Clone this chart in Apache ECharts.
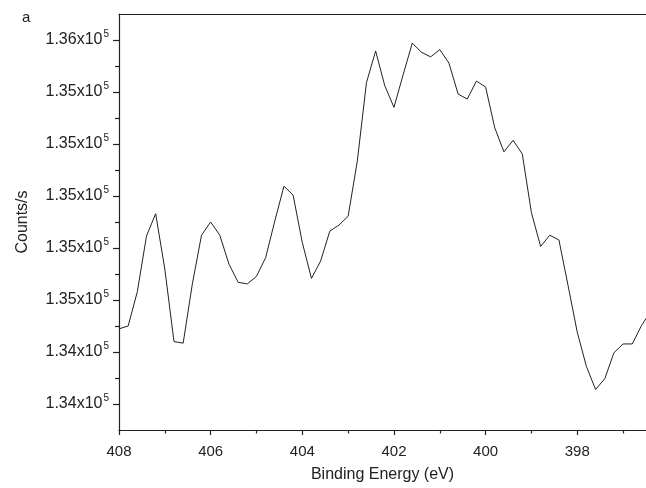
<!DOCTYPE html>
<html><head><meta charset="utf-8">
<script src="https://cdn.jsdelivr.net/npm/echarts@6/dist/echarts.min.js"></script>
<style>html,body{margin:0;padding:0;background:#fff}#c{width:646px;height:488px}</style>
</head><body><div id="c"></div>
<script>
const energy = [408.0,407.8,407.6,407.4,407.2,407.0,406.8,406.6,406.4,406.2,406.0,405.8,405.6,405.4,405.2,405.0,404.8,404.6,404.4,404.2,404.0,403.8,403.6,403.4,403.2,403.0,402.8,402.6,402.4,402.2,402.0,401.8,401.6,401.4,401.2,401.0,400.8,400.6,400.4,400.2,400.0,399.8,399.6,399.4,399.2,399.0,398.8,398.6,398.4,398.2,398.0,397.8,397.6,397.4,397.2,397.0,396.8,396.6,396.4];
const counts = [134489,134500,134632,134846,134932,134719,134440,134434,134661,134849,134900,134849,134738,134668,134662,134691,134763,134904,135038,135003,134821,134683,134750,134865,134888,134922,135134,135436,135558,135424,135341,135466,135588,135553,135535,135563,135511,135392,135373,135442,135419,135262,135170,135214,135162,134936,134806,134849,134831,134655,134476,134344,134256,134297,134397,134431,134431,134501,134556];
const yMajor = [134200,134400,134600,134800,135000,135200,135400,135600];
const yMinor = [134300,134500,134700,134900,135100,135300,135500];
const xMajor = [398,400,402,404,406,408];
const xMinor = [397,399,401,403,405,407];

const FONT = 'Liberation Sans';
const chart = echarts.init(document.getElementById('c'), null, {renderer:'canvas'});
const yMin = 134100, yMax = 135700, xMin = 396.5, xMax = 408;
const axisCol = '#222';
chart.setOption({
  animation:false,
  backgroundColor:'#fff',
  grid:{left:119, right:0, top:14, bottom:57, containLabel:false},
  graphic:[{type:'text', left:22, top:10, style:{text:'a', font:'15px "Liberation Sans"', fill:'#222'}}],
  xAxis:[
    {type:'value', inverse:true, min:xMin, max:xMax, position:'bottom',
     axisLine:{show:true, lineStyle:{color:axisCol, width:1.2}},
     axisTick:{show:true, inside:false, length:5, customValues:xMajor, lineStyle:{color:axisCol, width:1.2}},
     axisLabel:{show:true, customValues:xMajor, margin:14, color:'#222', fontFamily:FONT, fontSize:15},
     splitLine:{show:false},
     name:'Binding Energy (eV)', nameLocation:'middle', nameGap:37,
     nameTextStyle:{color:'#222', fontFamily:FONT, fontSize:16}},
    {type:'value', inverse:true, min:xMin, max:xMax, position:'bottom',
     axisLine:{show:false},
     axisTick:{show:true, length:3.5, customValues:xMinor, lineStyle:{color:axisCol, width:1.2}},
     axisLabel:{show:false}, splitLine:{show:false}},
    {type:'value', inverse:true, min:xMin, max:xMax, position:'top',
     axisLine:{show:true, lineStyle:{color:axisCol, width:1.2}},
     axisTick:{show:false}, axisLabel:{show:false}, splitLine:{show:false}}
  ],
  yAxis:[
    {type:'value', min:yMin, max:yMax, position:'left', scale:true,
     axisLine:{show:true, lineStyle:{color:axisCol, width:1.2}},
     axisTick:{show:true, length:6, customValues:yMajor, lineStyle:{color:axisCol, width:1.2}},
     axisLabel:{show:true, customValues:yMajor, margin:10,
       formatter:function(v){ return '{m|' + (v/1e5).toFixed(2) + 'x10}{s|5}'; },
       rich:{m:{fontFamily:FONT, fontSize:16, color:'#222'},
             s:{fontFamily:FONT, fontSize:10, color:'#222', verticalAlign:'top', padding:[0,0,12,1]}}},
     splitLine:{show:false},
     name:'Counts/s', nameLocation:'middle', nameGap:88, nameRotate:90,
     nameTextStyle:{color:'#222', fontFamily:FONT, fontSize:16}},
    {type:'value', min:yMin, max:yMax, position:'left', scale:true,
     axisLine:{show:false},
     axisTick:{show:true, length:4, customValues:yMinor, lineStyle:{color:axisCol, width:1.2}},
     axisLabel:{show:false}, splitLine:{show:false}}
  ],
  series:[{
    type:'line', xAxisIndex:0, yAxisIndex:0,
    data: energy.map((e,i)=>[e, counts[i]]),
    showSymbol:false, symbol:'none', clip:true,
    lineStyle:{color:'#222', width:1}
  }]
});
</script></body></html>
